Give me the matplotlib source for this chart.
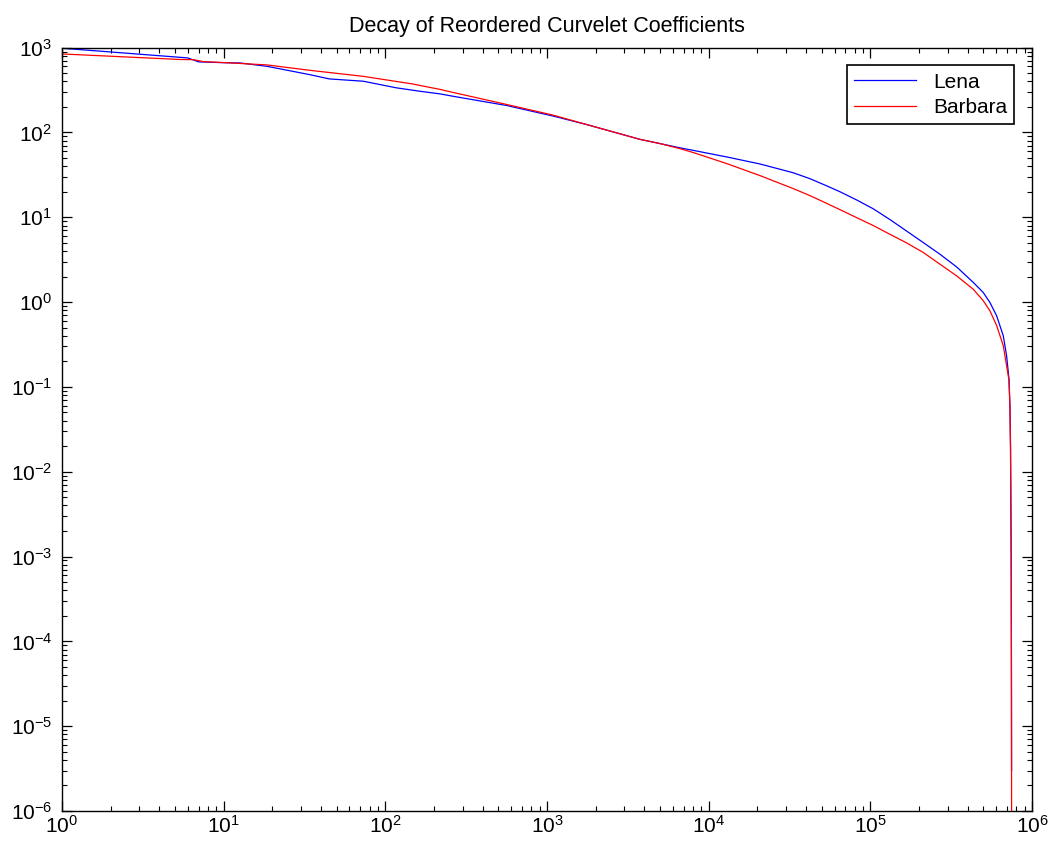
import numpy as np
import matplotlib
matplotlib.use("Agg")
import matplotlib.pyplot as plt
from matplotlib.ticker import LogLocator, NullFormatter

plt.rcParams['font.family'] = ['Liberation Sans', 'DejaVu Sans']

# sorted curvelet coefficient magnitudes, sampled by rank
lena_rank = [1, 6, 7, 10, 12.6, 18.5, 34, 45, 73, 117, 164, 218, 263, 562,
             1092, 1758, 3750, 4990, 6620, 8020, 12900, 20750, 33300, 42270,
             53600, 64800, 82200, 104000, 132000, 167000, 212000, 269000,
             341000, 432000, 498000, 548000, 603000, 663000, 695000, 719000,
             729000, 735000, 742000, 745000, 746000]
lena_coef = [985, 757, 680, 665, 660, 603, 481, 428, 402, 336, 306, 285, 267,
             208, 156, 124, 83, 74, 66, 61.5, 51.5, 42.5, 33.5, 28.5, 23.5,
             20, 16, 12.6, 9.4, 6.9, 5.04, 3.67, 2.6, 1.71, 1.30, 0.99, 0.69,
             0.40, 0.233, 0.124, 0.06, 0.02, 1e-3, 3e-5, 3e-6]

barbara_rank = [1, 5.4, 6.5, 7.5, 10, 18.5, 34, 73, 149, 164, 218, 263, 562,
                1092, 1758, 3750, 4990, 6620, 8020, 12900, 20750, 33300,
                42270, 53600, 64800, 82200, 104000, 132000, 167000, 212000,
                269000, 341000, 432000, 498000, 548000, 603000, 663000,
                695000, 719000, 729000, 735000, 742000, 745000, 746500]
barbara_coef = [843, 725, 722, 684, 667, 626, 541, 459, 372, 358, 322, 296,
                214, 160, 124, 83, 74, 64.5, 58, 43, 31, 21.8, 18, 14.6,
                12.3, 9.9, 8.0, 6.3, 5.0, 3.85, 2.8, 2.04, 1.42, 1.04, 0.79,
                0.53, 0.306, 0.178, 0.12, 0.058, 0.018, 8e-4, 2e-5, 5e-7]

fig = plt.figure(figsize=(10.5, 8.51), dpi=100)
ax = fig.add_axes([0.059, 0.047, 0.924, 0.897])

ax.loglog(lena_rank, lena_coef, color='#0000ff', lw=0.9, label='Lena')
ax.loglog(barbara_rank, barbara_coef, color='#ff0000', lw=0.9, label='Barbara')

ax.set_xlim(1, 1e6)
ax.set_ylim(1e-6, 1e3)
ax.xaxis.set_major_locator(LogLocator(base=10, numticks=20))
ax.yaxis.set_major_locator(LogLocator(base=10, numticks=20))
ax.xaxis.set_minor_locator(LogLocator(base=10, subs=np.arange(2, 10), numticks=20))
ax.yaxis.set_minor_locator(LogLocator(base=10, subs=np.arange(2, 10), numticks=20))
ax.xaxis.set_minor_formatter(NullFormatter())
ax.yaxis.set_minor_formatter(NullFormatter())

ax.tick_params(which='both', direction='in', top=True, right=True, labelsize=15)
ax.tick_params(which='major', length=7, width=0.9)
ax.tick_params(which='minor', length=3.5, width=0.8)
ax.tick_params(axis='x', which='major', pad=3)
ax.tick_params(axis='y', which='major', pad=7)
for s in ax.spines.values():
    s.set_linewidth(1.0)

ax.set_title('Decay of Reordered Curvelet Coefficients', fontsize=15.5, pad=11)

leg = ax.legend(loc='upper right', fontsize=15, handlelength=3.0,
                fancybox=False, framealpha=1, edgecolor='black',
                borderaxespad=0.85, labelspacing=0.3, borderpad=0.35)
leg.get_frame().set_linewidth(1.2)

fig.savefig('out.png', dpi=100)
